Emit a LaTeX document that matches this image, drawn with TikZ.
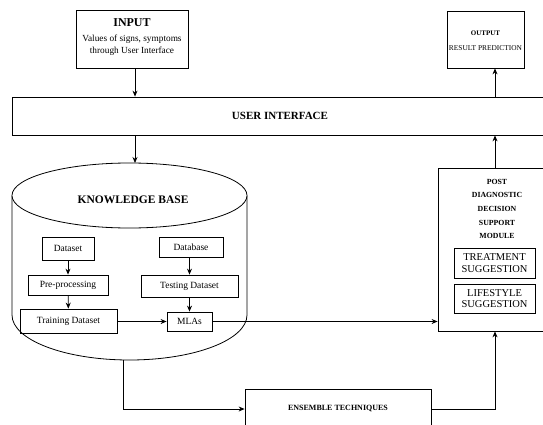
\documentclass[tikz,border=0pt]{standalone}
\usepackage{fontspec}
\setmainfont{Liberation Serif}
\usetikzlibrary{arrows.meta}
\tikzset{
  box/.style={draw, line width=0.8pt, inner sep=0pt, align=center},
  arr/.style={line width=0.8pt, -{Stealth[length=6pt,width=5pt]}},
  ln/.style={line width=0.8pt},
}
\begin{document}
\begin{tikzpicture}[x=1pt,y=-1pt]
\useasboundingbox (0,0) rectangle (543,425);
\clip (0,0) rectangle (543,425);
% INPUT
\node[box, minimum width=112pt, minimum height=58pt] (input) at (132,39) {};
\node[font=\bfseries\fontsize{12}{13}\selectfont] (inputt) at (132,23) {INPUT};
\node[align=center, font=\fontsize{9.3}{12.5}\selectfont] (inputs) at (132,45) {Values of signs, symptoms\\through User Interface};
% OUTPUT
\node[box, minimum width=77pt, minimum height=57pt] (output) at (485.5,39.5) {};
\node[font=\bfseries\fontsize{7}{8}\selectfont] (outt) at (485.5,33) {OUTPUT};
\node[font=\fontsize{7.4}{8}\selectfont] (outs) at (485.5,48) {RESULT PREDICTION};
% UI
\node[box, minimum width=548pt, minimum height=38pt] (ui) at (286,116) {};
\node[font=\bfseries\fontsize{11}{12}\selectfont] (uit) at (280,116) {USER INTERFACE};
% Knowledge base cylinder
\draw[ln] (12,195.5) -- (12,315) arc[start angle=180, end angle=0, x radius=117.5, y radius=45] -- (247,195.5);
\draw[ln, fill=white] (129.5,195.5) ellipse[x radius=117.5, y radius=32.5];
\node[font=\bfseries\fontsize{11.5}{13}\selectfont] (kb) at (133,200) {KNOWLEDGE BASE};
\coordinate (kbtop) at (135,163);
\coordinate (kbbot) at (123,359.9);
% inner boxes
\node[box, minimum width=52pt, minimum height=23pt, font=\fontsize{9.5}{11}\selectfont] (dataset) at (68,248.5) {Dataset};
\node[box, minimum width=80pt, minimum height=20pt, font=\fontsize{9.5}{11}\selectfont] (pre) at (68,285) {Pre-processing};
\node[box, minimum width=97pt, minimum height=24pt, font=\fontsize{9.5}{11}\selectfont] (train) at (68.5,321) {Training Dataset};
\node[box, minimum width=64pt, minimum height=20pt, font=\fontsize{9.5}{11}\selectfont] (database) at (191,247) {Database};
\node[box, minimum width=97pt, minimum height=22pt, font=\fontsize{9.5}{11}\selectfont] (test) at (189.5,286) {Testing Dataset};
\node[box, minimum width=45pt, minimum height=19pt, font=\fontsize{9.5}{11}\selectfont] (mla) at (189.5,321.5) {MLAs};
% post diagnostic
\node[box, minimum width=120pt, minimum height=163pt] (post) at (498,249.5) {};
\node[align=center, font=\bfseries\fontsize{7.8}{13.6}\selectfont] (postt) at (497,209) {POST\\DIAGNOSTIC\\DECISION\\SUPPORT\\MODULE};
\node[box, minimum width=81pt, minimum height=30pt, font=\fontsize{10.5}{11.5}\selectfont] (treat) at (494.5,263) {TREATMENT\\SUGGESTION};
\node[box, minimum width=81pt, minimum height=29pt, font=\fontsize{10.5}{11.5}\selectfont] (life) at (494.5,298.5) {LIFESTYLE\\SUGGESTION};
% ensemble
\node[box, minimum width=186pt, minimum height=40pt] (ens) at (338,409) {};
\node[font=\bfseries\fontsize{8}{9}\selectfont] (enst) at (338,408) {ENSEMBLE TECHNIQUES};
% coordinates for vertical connectors
\coordinate (xr) at (495,0);
\coordinate (xl) at (135,0);
% connectors
\draw[arr] (input.south -| xl) -- (ui.north -| xl);
\draw[arr] (ui.north -| xr) -- (output.south -| xr);
\draw[arr] (ui.south -| xl) -- (kbtop);
\draw[arr] (post.north -| xr) -- (ui.south -| xr);
\draw[arr] (dataset) -- (pre);
\draw[arr] (pre) -- (train);
\draw[arr] (database.south -| mla) -- (test.north -| mla);
\draw[arr] (test) -- (mla);
\draw[arr] (train.east |- mla) -- (mla.west);
\draw[arr] (mla.east) -- (mla.east -| post.west);
\draw[arr] (kbbot) |- (ens.west);
\draw[arr] (ens.east) -| (post.south -| xr);
\end{tikzpicture}
\end{document}
